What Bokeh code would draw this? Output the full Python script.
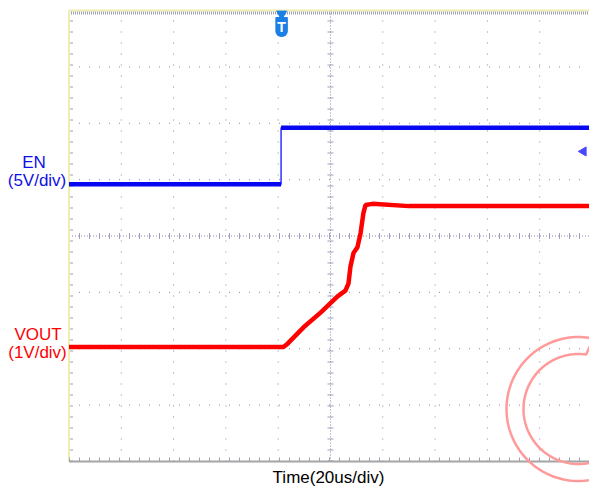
import numpy as np
from bokeh.plotting import figure
from bokeh.models import Range1d, Label, PolyAnnotation
from bokeh.embed import file_html
from bokeh.resources import INLINE

# ---------------- data ----------------
time_per_div_us = 20.0
en_volts_per_div = 5.0
vout_volts_per_div = 1.0
en_offset_div = 0.92       # EN ground level, divisions above centre
vout_offset_div = -1.97    # VOUT ground level, divisions above centre

en_time_us = [-100.0, -18.9, -18.9, 99.0]
en_volts = [0.0, 0.0, 5.0, 5.0]

vout_time_us = [-100.0, -18.0, -16.4, -10.3, -3.8, 2.7, 5.7, 6.9, 7.6, 8.8,
                10.3, 11.5, 12.6, 13.4, 16.0, 30.0, 99.0]
vout_volts = [0.0, 0.0, 0.06, 0.35, 0.61, 0.90, 1.00, 1.13, 1.42, 1.67,
              1.77, 2.02, 2.38, 2.52, 2.54, 2.50, 2.50]

trigger_time_us = -18.7
trigger_level_v = 2.9

# ---------------- geometry of the screen ----------------
W, H = 589, 486
PX_US = 2.615          # pixels per microsecond
PX_DIV = 56.375        # pixels per vertical division
CX, CY = 330.0, 235.5  # screen centre in pixels
def dx(px):            # pixel offset -> us
    return px / PX_US
def dy(px):            # pixel offset -> divisions
    return px / PX_DIV

XL = -5 * time_per_div_us          # left edge of graticule
XR = dx(W - CX)                    # right edge of window
YT, YB = 4.0, -4.0

p = figure(width=W, height=H,
           x_range=Range1d(-dx(CX), dx(W - CX)), y_range=Range1d(-dy(H - CY), dy(CY)),
           output_backend="svg", toolbar_location=None,
           x_axis_location=None, y_axis_location=None, min_border=0,
           background_fill_color="white", border_fill_color="white",
           outline_line_color=None)
p.xgrid.visible = False
p.ygrid.visible = False

GRID_C = "#8888aa"
div_t = [time_per_div_us * k for k in range(-4, 5)]
div_y = list(range(-3, 4))

# dotted division grid
p.multi_line([[t, t] for t in div_t if t != 0], [[YB, YT]] * 8,
             line_color=GRID_C, line_width=1, line_dash="1 10")
p.multi_line([[XL, XR]] * 6, [[v, v] for v in div_y if v != 0],
             line_color=GRID_C, line_width=1, line_dash="1 9")
# centre lines: fine dots + cross ticks
p.line([0, 0], [YB, YT], line_color=GRID_C, line_width=1, line_dash="1 2")
p.line([0, 0], [YB, YT], line_color=GRID_C, line_width=6, line_dash="1 10", line_alpha=0.8)
p.line([XL, XR], [0, 0], line_color=GRID_C, line_width=1, line_dash="1 2")
p.line([XL, XR], [0, 0], line_color=GRID_C, line_width=6, line_dash="1 9", line_alpha=0.8)

# graticule edges
p.line([XL, XR], [YT, YT], line_color="#eeeeb0", line_width=2)
p.line([XL, XR], [YT - dy(2.5), YT - dy(2.5)], line_color="#a0a0b4", line_width=3, line_dash="1 1")
p.line([XL, XL], [YB, YT], line_color="#eeeeb0", line_width=2)
p.line([XL + dx(2.5), XL + dx(2.5)], [YB, YT], line_color="#a0a0b4", line_width=3, line_dash="1 10")
p.line([XL, XR], [YB + dy(2), YB + dy(2)], line_color="#a0a0b4", line_width=4, line_dash="1 9")
p.line([XL, XR], [YB, YB], line_color="#a4a4a4", line_width=2)

# ---------------- traces ----------------
en_y = np.array(en_volts) / en_volts_per_div + en_offset_div
vout_y = np.array(vout_volts) / vout_volts_per_div + vout_offset_div

BLUE = "#0808f2"
# thin line through all points (sharp edge), thick noisy-looking band on the flat levels
p.line(en_time_us, en_y, line_color="#3030ff", line_width=1.5)
flat = [i for i in range(len(en_time_us) - 1) if en_volts[i] == en_volts[i + 1]]
p.multi_line([[en_time_us[i], en_time_us[i + 1]] for i in flat],
             [[en_y[i], en_y[i + 1]] for i in flat],
             line_color=BLUE, line_width=4.5, line_cap="butt")
p.line(vout_time_us, vout_y, line_color="#ff0000", line_width=4.5)

# trigger markers
p.scatter([trigger_time_us], [YT - dy(3.5)], marker="inverted_triangle", size=10,
          fill_color="#1a80e6", line_color="#1a80e6")
p.add_layout(Label(x=trigger_time_us, y=YT - dy(16.5), text="T", text_color="white",
                   text_font="Liberation Sans", text_font_style="bold", text_font_size="14px",
                   text_align="center", text_baseline="middle",
                   background_fill_color="#1a80e6", padding=2, border_radius=(1, 1, 6, 6)))
p.scatter([dx(583 - CX)], [trigger_level_v / en_volts_per_div + en_offset_div], marker="triangle",
          angle=np.pi / 2, size=9, fill_color="#4848ff", line_color="#4848ff")

# ---------------- texts ----------------
FONT = "Liberation Sans"
def txt(x, y, s, color):
    p.add_layout(Label(x=x, y=y, text=s, text_color=color, text_font=FONT,
                       text_font_size="17px", text_align="center",
                       text_baseline="alphabetic"))

txt(dx(33.5 - CX), dy(CY - 162), "EN", "#1010e8")
txt(dx(36.5 - CX), dy(CY - 180), "(5V/div)", "#1010e8")
txt(dx(37.5 - CX), dy(CY - 334), "VOUT", "#ff0000")
txt(dx(37.0 - CX), dy(CY - 352), "(1V/div)", "#ff0000")
txt(dx(328 - CX), dy(CY - 477), "Time(20us/div)", "black")

# ---------------- watermark logo (pale red rings) ----------------
lcx, lcy = dx(578 - CX), dy(CY - 408.5)
a = np.linspace(0, 2 * np.pi, 160)
p.add_layout(PolyAnnotation(xs=list(lcx + dx(72) * np.cos(a)), ys=list(lcy + dy(72) * np.sin(a)),
                            fill_color=None, fill_alpha=0, line_color="#ff9a9a",
                            line_alpha=1.0, line_width=2.5))
b = np.radians(np.linspace(82, 300, 120))
ixs = list(lcx + dx(55) * np.cos(b)) + [dx(640 - CX), dx(640 - CX), dx(592 - CX)]
iys = list(lcy + dy(55) * np.sin(b)) + [dy(CY - 470), dy(CY - 330), dy(CY - 340)]
p.add_layout(PolyAnnotation(xs=ixs, ys=iys, fill_color=None, fill_alpha=0,
                            line_color="#ff9a9a", line_alpha=1.0, line_width=2.5))

open("out.html", "w").write(file_html(p, INLINE))
